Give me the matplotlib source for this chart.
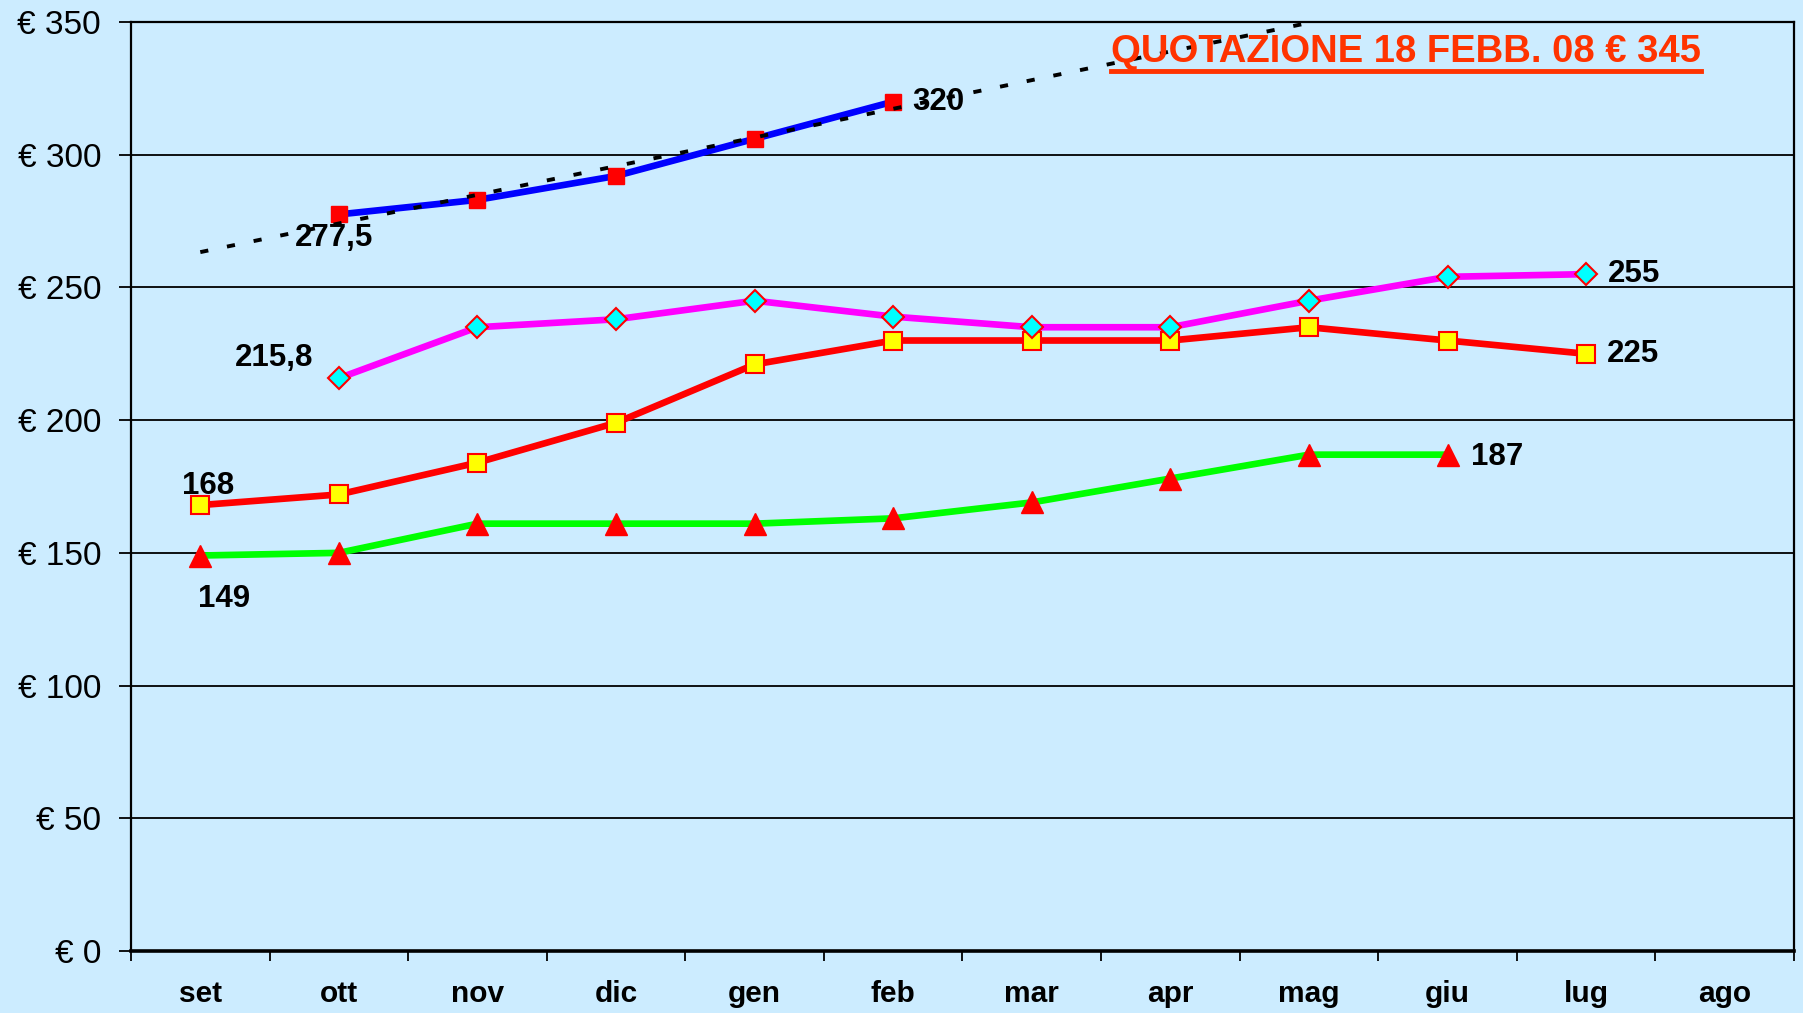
import numpy as np
import matplotlib
matplotlib.use("Agg")
import matplotlib.pyplot as plt
from matplotlib.lines import Line2D

# ---------------- data ----------------
months = ['set', 'ott', 'nov', 'dic', 'gen', 'feb', 'mar', 'apr', 'mag', 'giu', 'lug', 'ago']
green_vals = [149, 150, 161, 161, 161, 163, 169, 178, 187, 187]            # set..giu
red_vals = [168, 172, 184, 199, 221, 230, 230, 230, 235, 230, 225]          # set..lug
magenta_vals = [215.8, 235, 238, 245, 239, 235, 235, 245, 254, 255]         # ott..lug
blue_vals = [277.5, 283, 292, 306, 320]                                     # ott..feb
yticks = [0, 50, 100, 150, 200, 250, 300, 350]
title_text = "QUOTAZIONE 18 FEBB. 08 € 345"

BG = '#CCECFF'
plt.rcParams['font.family'] = ['Liberation Sans', 'DejaVu Sans']

fig = plt.figure(figsize=(18.03, 10.13), dpi=100, facecolor=BG)
ax = fig.add_axes([131/1803, 1 - 951/1013, 1663/1803, 929/1013])
ax.set_facecolor(BG)

x_green = np.arange(0, len(green_vals))
x_red = np.arange(0, len(red_vals))
x_mag = np.arange(1, 1 + len(magenta_vals))
x_blue = np.arange(1, 1 + len(blue_vals))

# gridlines
for v in yticks[1:]:
    ax.axhline(v, color='black', lw=1.3, zorder=1)

LW = 4.8
ax.plot(x_green, green_vals, color='#00FF00', lw=LW, zorder=3,
        marker='^', ms=16, mfc='red', mec='red', mew=1)
ax.plot(x_red, red_vals, color='#FF0000', lw=LW, zorder=3,
        marker='s', ms=13, mfc='#FFFF00', mec='red', mew=1.5)
ax.plot(x_mag, magenta_vals, color='#FF00FF', lw=LW, zorder=3,
        marker='D', ms=11.5, mfc='#00FFFF', mec='red', mew=1.5)
ax.plot(x_blue, blue_vals, color='#0000FF', lw=LW, zorder=3,
        marker='s', ms=12, mfc='red', mec='red', mew=1)

# linear trendline of the blue series (as in the original chart)
coef = np.polyfit(x_blue, blue_vals, 1)
xt = np.array([0, 9])
ax.plot(xt, np.polyval(coef, xt), color='black', lw=2.8, zorder=4,
        dashes=(2.1, 4.9))

# data labels
lab = dict(fontsize=22.5, fontweight='bold', color='black', zorder=6)
def note(txt, x, y, dx, dy, ha):
    ax.annotate(txt, (x, y), xytext=(dx, dy), textcoords='offset points',
                ha=ha, va='center', **lab)

note('277,5', x_blue[0], blue_vals[0], -3.6, -17.3, 'center')
note('320', x_blue[-1], blue_vals[-1], 14, 0, 'left')
note('215,8', x_mag[0], magenta_vals[0], -18.7, 14.6, 'right')
note('255', x_mag[-1], magenta_vals[-1], 16, 0, 'left')
note('168', x_red[0], red_vals[0], 5.8, 13.7, 'center')
note('225', x_red[-1], red_vals[-1], 15, 0, 'left')
note('149', x_green[0], green_vals[0], 17.3, -31.3, 'center')
note('187', x_green[-1], green_vals[-1], 17, -1.5, 'left')

# axes
ax.set_xlim(-0.5, len(months) - 0.5)
ax.set_ylim(0, 350)
ax.set_yticks(yticks)
ax.set_yticklabels([f"€ {v}" for v in yticks], fontsize=24)
ax.tick_params(axis='y', direction='out', length=8.6, width=1.3, pad=13)

ax.set_xticks(np.arange(-0.5, len(months)))
ax.set_xticklabels([])
ax.tick_params(axis='x', which='major', direction='out', length=7, width=1.3)
ax.set_xticks(np.arange(len(months)), minor=True)
ax.set_xticklabels(months, minor=True, fontsize=21.5, fontweight='bold')
ax.tick_params(axis='x', which='minor', length=0, pad=21)

for s in ['top', 'right', 'left']:
    ax.spines[s].set_linewidth(1.6)
    ax.spines[s].set_color('black')
ax.spines['bottom'].set_linewidth(2.6)
ax.spines['top'].set_zorder(5)

t = ax.text(0.7667, 0.968, title_text, transform=ax.transAxes,
            ha='center', va='center', fontsize=27.5, fontweight='bold',
            color='#FF3300', zorder=7,
            family=['Liberation Sans Narrow', 'Liberation Sans', 'DejaVu Sans'])

fig.canvas.draw()
bb = t.get_window_extent(renderer=fig.canvas.get_renderer())
inv = fig.transFigure.inverted()
(x0, y0), (x1, _) = inv.transform([(bb.x0, bb.y0 - 1), (bb.x1, bb.y0)])
fig.add_artist(Line2D([x0, x1], [y0, y0], color='#FF3300', lw=3.5, zorder=7))

fig.savefig('out.png', dpi=100, facecolor=BG)
